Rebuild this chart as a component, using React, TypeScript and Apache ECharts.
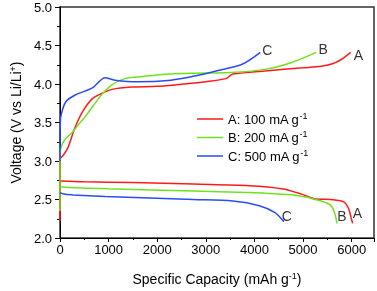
import React, { useEffect, useRef } from "react";
import * as echarts from "echarts";

// Charge curves [capacity mAh/g, voltage V]
const chargeA: [number, number][] = [
  [0, 2.22], [0, 3.03], [50, 3.06], [162, 3.17], [300, 3.42], [465, 3.64], [667, 3.81],
  [869, 3.88], [1071, 3.93], [1475, 3.96], [2000, 3.97], [2545, 4.0], [3000, 4.03],
  [3414, 4.07], [3500, 4.11], [3556, 4.13], [4222, 4.17], [5000, 4.21], [5374, 4.23],
  [5636, 4.27], [5838, 4.34], [5980, 4.41],
];
const chargeB: [number, number][] = [
  [0, 2.35], [0, 3.08], [20, 3.17], [81, 3.26], [263, 3.38], [364, 3.46], [525, 3.58],
  [687, 3.72], [869, 3.87], [1071, 3.99], [1333, 4.07], [1737, 4.1], [2283, 4.13],
  [2747, 4.14], [3500, 4.15], [4222, 4.19], [4768, 4.28], [5273, 4.41],
];
const chargeC: [number, number][] = [
  [0, 3.0], [0, 3.3], [5, 3.45], [20, 3.59], [121, 3.77], [323, 3.86], [667, 3.95],
  [929, 4.08], [1131, 4.05], [1596, 4.03], [2283, 4.05], [2747, 4.1], [3212, 4.17],
  [3758, 4.26], [4121, 4.41],
];
// Discharge curves
const dischargeA: [number, number][] = [
  [0, 2.74], [500, 2.73], [1500, 2.72], [2747, 2.7], [3899, 2.68], [4566, 2.64],
  [4970, 2.57], [5232, 2.51], [5576, 2.5], [5838, 2.47], [5939, 2.38], [5990, 2.26], [6020, 2.19],
];
const dischargeB: [number, number][] = [
  [0, 2.67], [100, 2.66], [1000, 2.64], [2747, 2.61], [3899, 2.59], [4909, 2.55],
  [5374, 2.48], [5576, 2.42], [5657, 2.31], [5697, 2.19],
];
const dischargeC: [number, number][] = [
  [0, 2.59], [80, 2.57], [263, 2.56], [929, 2.54], [2747, 2.5], [3556, 2.48],
  [4101, 2.42], [4424, 2.33], [4606, 2.21],
];

const seriesNames = ["A", "B", "C"];
const legendTexts = ["A: 100 mA g", "B: 200 mA g", "C: 500 mA g"];
const colors = ["#ff1a1a", "#6ee31c", "#2a4bf5"];

// Curve end labels [capacity, voltage, text]
const curveLabels: [number, number, string][] = [
  [4263, 4.44, "C"], [5414, 4.45, "B"], [6141, 4.38, "A"],
  [4667, 2.28, "C"], [5798, 2.28, "B"], [6121, 2.32, "A"],
];

const xTicks = [0, 1000, 2000, 3000, 4000, 5000, 6000];
const yTicks = [2.0, 2.5, 3.0, 3.5, 4.0, 4.5, 5.0];

const FONT = "'Liberation Sans', Arial, sans-serif";

export default function App() {
  const ref = useRef<HTMLDivElement>(null);
  useEffect(() => {
    if (!ref.current) return;
    const chart = echarts.init(ref.current, undefined, { renderer: "svg" });
    const charges = [chargeA, chargeB, chargeC];
    const discharges = [dischargeA, dischargeB, dischargeC];
    const lineSeries: any[] = [];
    for (let i = 0; i < 3; i++) {
      for (const d of [charges[i], discharges[i]]) {
        lineSeries.push({
          type: "line",
          name: seriesNames[i],
          data: d,
          symbol: "none",
          smooth: 0.3,
          lineStyle: { color: colors[i], width: 1.5 },
          itemStyle: { color: colors[i] },
          z: 2 + i,
        });
      }
    }
    const supRich = {
      sup: { fontSize: 9, fontFamily: FONT, color: "#000", padding: [0, 0, 7, 0] },
    };
    chart.setOption({
      animation: false,
      textStyle: { fontFamily: FONT },
      grid: {
        left: 54, right: 3, top: 7, bottom: 50,
        show: true, borderColor: "#333", borderWidth: 1.5, backgroundColor: "transparent",
      },
      legend: {
        data: seriesNames,
        orient: "vertical",
        left: 192,
        top: 106,
        icon: "rect",
        itemWidth: 26,
        itemHeight: 1.5,
        itemGap: 4,
        textStyle: { fontSize: 13, color: "#000", fontFamily: FONT, rich: supRich },
        formatter: (name: string) => `${legendTexts[seriesNames.indexOf(name)]}{sup|-1}`,
      },
      xAxis: {
        type: "value",
        min: xTicks[0],
        max: 6460,
        interval: 1000,
        name: "Specific Capacity (mAh g{sup|-1})",
        nameLocation: "middle",
        nameGap: 33,
        nameTextStyle: { fontSize: 14, color: "#000", fontFamily: FONT, rich: supRich },
        axisLine: { show: true, lineStyle: { color: "#000", width: 1 } },
        axisTick: { show: true, length: 4, lineStyle: { color: "#000" } },
        minorTick: { show: true, splitNumber: 2, length: 2, lineStyle: { color: "#000" } },
        splitLine: { show: false },
        axisLabel: {
          fontSize: 13, color: "#000", margin: 5, showMaxLabel: false,
          formatter: (v: number) => (xTicks.includes(v) ? String(v) : ""),
        },
      },
      yAxis: {
        type: "value",
        min: yTicks[0],
        max: yTicks[yTicks.length - 1],
        interval: 0.5,
        name: "Voltage (V vs Li/Li{sup|+})",
        nameLocation: "middle",
        nameRotate: 90,
        nameGap: 36,
        nameTextStyle: { fontSize: 14, color: "#000", fontFamily: FONT, rich: supRich },
        axisLine: { show: true, lineStyle: { color: "#000", width: 1 } },
        axisTick: { show: true, length: 5, lineStyle: { color: "#000" } },
        minorTick: { show: true, splitNumber: 2, length: 3, lineStyle: { color: "#000" } },
        splitLine: { show: false },
        axisLabel: {
          fontSize: 13, color: "#000", margin: 8,
          formatter: (v: number) => v.toFixed(1),
        },
      },
      series: [
        ...lineSeries,
        {
          type: "scatter",
          name: "labels",
          data: curveLabels.map((l) => [l[0], l[1], l[2]]),
          symbolSize: 0,
          silent: true,
          z: 10,
          label: {
            show: true,
            position: "inside",
            fontSize: 14,
            color: "#000",
            fontFamily: FONT,
            formatter: (p: any) => p.value[2],
          },
        },
      ],
    });
    return () => chart.dispose();
  }, []);
  return (
    <div
      ref={ref}
      style={{ position: "fixed", left: 0, top: 0, width: 377, height: 291 }}
    />
  );
}
